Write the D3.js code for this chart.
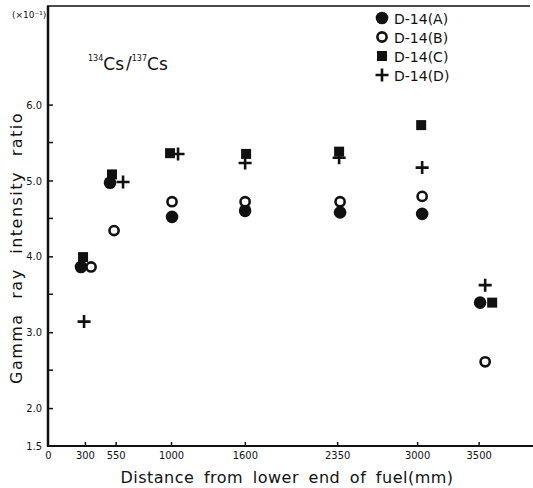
<!DOCTYPE html>
<html>
<head>
<meta charset="utf-8">
<script src="https://cdn.jsdelivr.net/npm/d3@7"></script>
<style>
    body { margin: 0; background: #fff; }
    #chart-first { width: 533px; height: 488px; }
    .tick-label { font-family: "Liberation Sans Narrow", "DejaVu Sans Condensed", "Arial Narrow", sans-serif; font-stretch: condensed; font-size: 11px; fill: #111; }
    .legend-label { font-family: "DejaVu Sans", sans-serif; font-size: 14px; fill: #111; }
    .axis-title { font-family: "DejaVu Sans", sans-serif; font-size: 16px; fill: #111; }
</style>
</head>
<body>
<div id="chart-first"></div>
<script>
//Datos
let seriesNames = ['D-14(A)', 'D-14(B)', 'D-14(C)', 'D-14(D)'];
let distA = [268, 504, 1008, 1602, 2374, 3041, 3512];
let ratioA = [3.86, 4.97, 4.52, 4.60, 4.58, 4.56, 3.39];
let distB = [350, 537, 1008, 1602, 2374, 3041, 3553];
let ratioB = [3.86, 4.34, 4.72, 4.72, 4.72, 4.79, 2.61];
let distC = [285, 520, 992, 1610, 2366, 3033, 3610];
let ratioC = [3.99, 5.08, 5.36, 5.35, 5.38, 5.73, 3.39];
let distD = [293, 610, 1057, 1602, 2366, 3041, 3553];
let ratioD = [3.14, 4.98, 5.35, 5.23, 5.30, 5.17, 3.62];

let xTicks = [0, 300, 550, 1000, 1600, 2350, 3000, 3500];
let yTicksMajor = [1.5, 2.0, 3.0, 4.0, 5.0, 6.0];
let yTicksMinor = [2.5, 3.5, 4.5, 5.5];

function getChart() {
    let chartBlock = d3.select('#chart-first');
    let width = 533, height = 488;

    let svg = chartBlock.append('svg')
        .attr('width', width)
        .attr('height', height);

    //Escalas
    let x = d3.scaleLinear().domain([0, 3950]).range([48, 534]);
    let y = d3.scaleLinear().domain([1.5, 7.3]).range([446, 6]);

    let ink = '#111';

    //Marco: eje izquierdo, inferior y línea superior
    svg.append('line')
        .attr('x1', x(0)).attr('x2', x(0))
        .attr('y1', y(7.3)).attr('y2', y(1.5) + 1)
        .attr('stroke', ink).attr('stroke-width', 2.5);
    svg.append('line')
        .attr('x1', x(0) - 1).attr('x2', width)
        .attr('y1', y(1.5)).attr('y2', y(1.5))
        .attr('stroke', ink).attr('stroke-width', 2);
    svg.append('line')
        .attr('x1', x(0) - 1).attr('x2', width - 3)
        .attr('y1', y(7.3)).attr('y2', y(7.3))
        .attr('stroke', ink).attr('stroke-width', 1.5);

    //Eje X (marcas hacia dentro)
    let xAxis = function(g) {
        g.call(d3.axisBottom(x).tickValues(xTicks).tickSize(0).tickPadding(5).tickFormat(d3.format('d')));
        g.call(function(g) { g.select('.domain').remove(); });
        g.selectAll('.tick text').attr('class', 'tick-label').attr('fill', null);
        g.selectAll('.tick').filter(function(d) { return d > 0; })
            .append('line')
            .attr('y1', 0).attr('y2', -4)
            .attr('stroke', ink).attr('stroke-width', 1.5);
    };
    svg.append('g')
        .attr('transform', 'translate(0,' + y(1.5) + ')')
        .call(xAxis);

    //Eje Y
    let yAxis = function(g) {
        g.call(d3.axisLeft(y).tickValues(yTicksMajor).tickSize(0).tickPadding(6).tickFormat(d3.format('.1f')));
        g.call(function(g) { g.select('.domain').remove(); });
        g.selectAll('.tick text').attr('class', 'tick-label').attr('fill', null);
        g.selectAll('.tick').filter(function(d) { return d > 1.5; })
            .append('line')
            .attr('x1', 0).attr('x2', 5)
            .attr('stroke', ink).attr('stroke-width', 1.5);
    };
    svg.append('g')
        .attr('transform', 'translate(' + x(0) + ',0)')
        .call(yAxis);

    svg.append('g').selectAll('line')
        .data(yTicksMinor)
        .enter()
        .append('line')
        .attr('x1', x(0)).attr('x2', x(0) + 5)
        .attr('y1', function(d) { return y(d); })
        .attr('y2', function(d) { return y(d); })
        .attr('stroke', ink).attr('stroke-width', 1.5);

    //Títulos de ejes
    svg.append('text')
        .attr('class', 'axis-title')
        .attr('x', 287).attr('y', 483)
        .attr('text-anchor', 'middle')
        .style('letter-spacing', '0.5px')
        .style('word-spacing', '4px')
        .text('Distance from lower end of fuel(mm)');

    svg.append('text')
        .attr('class', 'axis-title')
        .attr('transform', 'translate(22,248) rotate(-90)')
        .attr('text-anchor', 'middle')
        .style('letter-spacing', '1.5px')
        .style('word-spacing', '8px')
        .text('Gamma ray intensity ratio');

    svg.append('text')
        .attr('x', 12).attr('y', 18)
        .style('font-family', '"DejaVu Sans", sans-serif')
        .style('font-size', '9px')
        .attr('fill', ink)
        .text('(×10⁻¹)');

    //Relación 134Cs/137Cs
    let ratioLabel = svg.append('text')
        .attr('x', 88).attr('y', 70)
        .style('font-family', '"DejaVu Sans", sans-serif')
        .style('font-size', '17px')
        .attr('fill', ink);
    ratioLabel.append('tspan').attr('dy', -9).style('font-size', '8px').text('134');
    ratioLabel.append('tspan').attr('dy', 9).text('Cs');
    ratioLabel.append('tspan').attr('dx', 2).attr('dy', -1).text('/');
    ratioLabel.append('tspan').attr('dy', -8).style('font-size', '8px').text('137');
    ratioLabel.append('tspan').attr('dy', 9).text('Cs');

    //Series
    let seriesA = distA.map(function(d, i) { return {x: d, y: ratioA[i]}; });
    let seriesB = distB.map(function(d, i) { return {x: d, y: ratioB[i]}; });
    let seriesC = distC.map(function(d, i) { return {x: d, y: ratioC[i]}; });
    let seriesD = distD.map(function(d, i) { return {x: d, y: ratioD[i]}; });

    function drawFilledCircle(g, cx, cy) {
        g.append('circle').attr('cx', cx).attr('cy', cy).attr('r', 6.3).attr('fill', ink);
    }
    function drawOpenCircle(g, cx, cy) {
        g.append('circle').attr('cx', cx).attr('cy', cy).attr('r', 4.6)
            .attr('fill', '#fff').attr('stroke', ink).attr('stroke-width', 2.6);
    }
    function drawSquare(g, cx, cy) {
        g.append('rect').attr('x', cx - 5).attr('y', cy - 5).attr('width', 10).attr('height', 10).attr('fill', ink);
    }
    function drawPlus(g, cx, cy) {
        g.append('path')
            .attr('d', 'M' + (cx - 6.5) + ',' + cy + 'H' + (cx + 6.5) + 'M' + cx + ',' + (cy - 6.5) + 'V' + (cy + 6.5))
            .attr('stroke', ink).attr('stroke-width', 2.6).attr('fill', 'none');
    }

    let marks = svg.append('g');
    seriesC.forEach(function(d) { drawSquare(marks, x(d.x), y(d.y)); });
    seriesD.forEach(function(d) { drawPlus(marks, x(d.x), y(d.y)); });
    seriesA.forEach(function(d) { drawFilledCircle(marks, x(d.x), y(d.y)); });
    seriesB.forEach(function(d) { drawOpenCircle(marks, x(d.x), y(d.y)); });

    //Leyenda
    let drawers = [drawFilledCircle, drawOpenCircle, drawSquare, drawPlus];
    let legend = svg.append('g').attr('transform', 'translate(382,18)');
    seriesNames.forEach(function(name, i) {
        let row = legend.append('g').attr('transform', 'translate(0,' + (i * 19) + ')');
        drawers[i](row, 0, 0);
        row.append('text')
            .attr('class', 'legend-label')
            .attr('x', 12).attr('y', 5.5)
            .text(name);
    });
}

getChart();
</script>
</body>
</html>
